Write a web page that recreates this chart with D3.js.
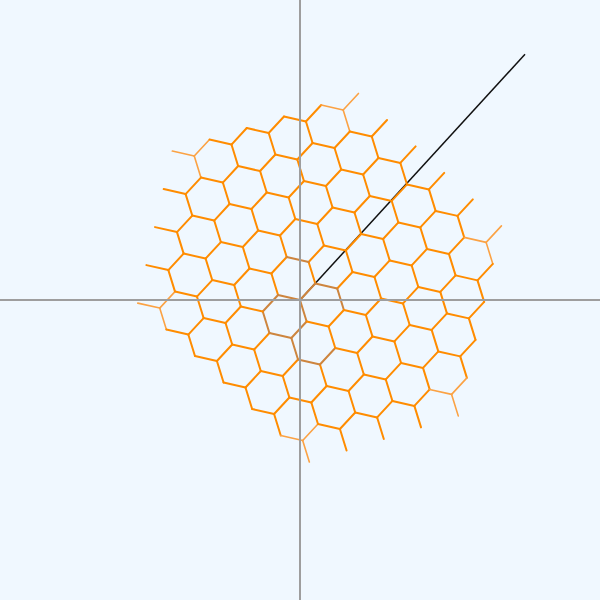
<!DOCTYPE html>
<html>
<head>
<meta charset="utf-8">
<script src="https://cdn.jsdelivr.net/npm/d3@7"></script>
<style>
  html, body { margin: 0; padding: 0; background: #f0f8ff; }
  svg { display: block; }
</style>
</head>
<body>
<svg id="chart" width="600" height="600"></svg>
<script>
// ---- data (lattice units: bond length = 1) ----
const bondLength = 1;
const rotationDeg = 47.2;            // direction of first bond, counter-clockwise from +x
// rows of A-sites: row index n, first and last m index
const rowN      = [-5, -4, -3, -2, -1, 0, 1, 2, 3, 4];
const rowMStart = [ 1,  0, -1, -2, -3, -3, -3, -3, -3, -3];
const rowMEnd   = [ 5,  5,  5,  5,  5,  5,  4,  3,  2,  1];
// corner sites drawn lighter
const cornerSites = [[1, -5], [5, -5], [5, 0], [1, 4], [-3, 4], [-3, -1]];
// bonds drawn in a brownish tone: [m, n, bondIndex]
const brownBonds = [[0,0,0],[0,0,1],[0,0,2],[-1,0,0],[-1,0,1],[1,0,2],[1,0,1],
                    [-1,1,0],[-1,1,1],[-1,1,2],[-1,2,2],[-1,2,0],[1,-1,2]];
// black reference line from origin
const lineStart = [0, 0];
const lineEnd   = [10.0, 10.92];
const domainHalf = 13.333;

// ---- geometry ----
const th = rotationDeg * Math.PI / 180;
const bondAngles = [th, th - 2 * Math.PI / 3, th + 2 * Math.PI / 3];
const u = bondAngles.map(a => [bondLength * Math.cos(a), bondLength * Math.sin(a)]);
const a1 = [u[0][0] - u[2][0], u[0][1] - u[2][1]];
const a2 = [u[1][0] - u[2][0], u[1][1] - u[2][1]];

const x = d3.scaleLinear().domain([-domainHalf, domainHalf]).range([0, 600]);
const y = d3.scaleLinear().domain([-domainHalf, domainHalf]).range([600, 0]);

const key = (m, n) => m + "," + n;
const cornerSet = new Set(cornerSites.map(c => key(c[0], c[1])));
const brownSet = new Set(brownBonds.map(b => key(b[0], b[1]) + "," + b[2]));

const bonds = [];
rowN.forEach((n, i) => {
  for (let m = rowMStart[i]; m <= rowMEnd[i]; m++) {
    const px = m * a1[0] + n * a2[0];
    const py = m * a1[1] + n * a2[1];
    u.forEach((v, k) => {
      let type = "normal";
      if (cornerSet.has(key(m, n))) type = "light";
      if (brownSet.has(key(m, n) + "," + k)) type = "brown";
      bonds.push({ x1: px, y1: py, x2: px + v[0], y2: py + v[1], type });
    });
  }
});

const svg = d3.select("#chart");
svg.append("rect").attr("width", 600).attr("height", 600).attr("fill", "#f0f8ff");

// black line
svg.append("line")
  .attr("x1", x(lineStart[0])).attr("y1", y(lineStart[1]))
  .attr("x2", x(lineEnd[0])).attr("y2", y(lineEnd[1]))
  .attr("stroke", "#111").attr("stroke-width", 1.5);

const colors = { normal: "#ff8c00", light: "#fba244", brown: "#cd853f" };
const widths = { normal: 2, light: 1.6, brown: 2 };

svg.append("g").selectAll("line").data(bonds).join("line")
  .attr("x1", d => x(d.x1)).attr("y1", d => y(d.y1))
  .attr("x2", d => x(d.x2)).attr("y2", d => y(d.y2))
  .attr("stroke", d => colors[d.type])
  .attr("stroke-width", d => widths[d.type])
  .attr("stroke-linecap", "round");

// axes through the origin
svg.append("line")
  .attr("x1", 0).attr("x2", 600).attr("y1", y(0)).attr("y2", y(0))
  .attr("stroke", "#9e9e9e").attr("stroke-width", 2);
svg.append("line")
  .attr("x1", x(0)).attr("x2", x(0)).attr("y1", 0).attr("y2", 600)
  .attr("stroke", "#9e9e9e").attr("stroke-width", 2);
</script>
</body>
</html>
